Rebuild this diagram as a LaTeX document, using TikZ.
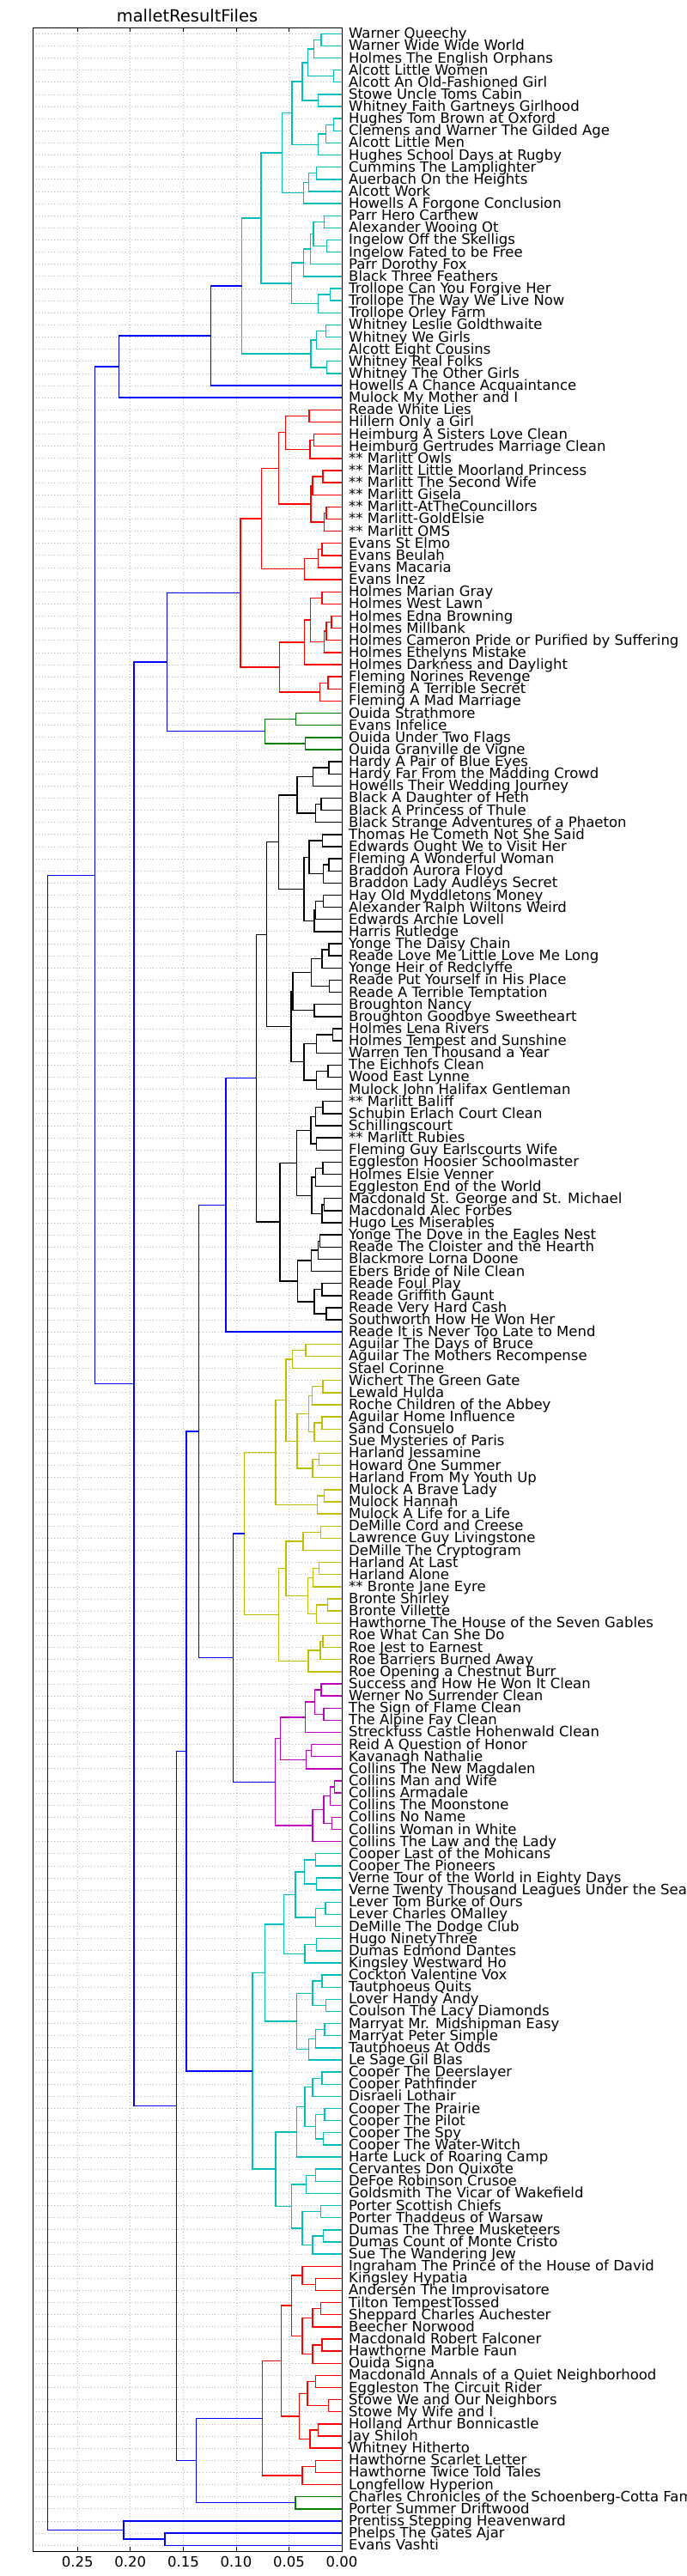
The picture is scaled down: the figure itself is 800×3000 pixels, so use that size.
\documentclass[tikz,border=0pt]{standalone}
\usepackage{fontspec}
\usetikzlibrary{calc}
\newfontfamily\labfont{DejaVu Sans}
\definecolor{mcyan}{rgb}{0,0.75,0.75}
\definecolor{mred}{rgb}{1,0,0}
\definecolor{mgreen}{rgb}{0,0.5,0}
\definecolor{myellow}{rgb}{0.75,0.75,0}
\definecolor{mmag}{rgb}{0.75,0,0.75}
\definecolor{mblue}{rgb}{0,0,1}
\definecolor{gridgray}{rgb}{0.72,0.72,0.72}
\tikzset{
  link/.style={line width=1.4pt, line join=miter},
  gridline/.style={gridgray, line width=0.8pt, dash pattern=on 1pt off 2.6pt},
  leaflab/.style={anchor=base west, inner sep=0pt, font=\labfont\fontsize{16.5}{16.5}\selectfont},
  ticklab/.style={anchor=north, inner sep=0pt, font=\labfont\fontsize{16.5}{16.5}\selectfont},
  titlelab/.style={anchor=base, inner sep=0pt, font=\labfont\fontsize{19.5}{19.5}\selectfont},
}
% #1 name, #2 child a, #3 child b, #4 height in old units (260 = 0), #5 colour
\newcommand\lk[5]{%
  \path let \p1=(#2), \p2=(#3) in ({(398-(260-#4)*1.5385)*1pt},{0.5*(\y1+\y2)}) coordinate (#1);
  \draw[link,#5] (#2) -- (#2 -| #1) -- (#3 -| #1) -- (#3);
}
\begin{document}
\begin{tikzpicture}[x=1pt,y=-1pt]
\useasboundingbox (0,0) rectangle (800,3000);
\clip (0,0) rectangle (800,3000);
\fill[white] (0,0) rectangle (800,3000);
% leaves and labels
\foreach \t [count=\i] in {Warner Queechy, Warner Wide Wide World, Holmes The English Orphans, Alcott Little Women, Alcott An Old-Fashioned Girl, Stowe Uncle Toms Cabin, Whitney Faith Gartneys Girlhood, Hughes Tom Brown at Oxford, Clemens and Warner The Gilded Age, Alcott Little Men, Hughes School Days at Rugby, Cummins The Lamplighter, Auerbach On the Heights, Alcott Work, Howells A Forgone Conclusion, Parr Hero Carthew, Alexander Wooing Ot, Ingelow Off the Skelligs, Ingelow Fated to be Free, Parr Dorothy Fox, Black Three Feathers, Trollope Can You Forgive Her, Trollope The Way We Live Now, Trollope Orley Farm, Whitney Leslie Goldthwaite, Whitney We Girls, Alcott Eight Cousins, Whitney Real Folks, Whitney The Other Girls, Howells A Chance Acquaintance, Mulock My Mother and I, Reade White Lies, Hillern Only a Girl, Heimburg A Sisters Love Clean, Heimburg Gertrudes Marriage Clean, ** Marlitt Owls, ** Marlitt Little Moorland Princess, ** Marlitt The Second Wife, ** Marlitt Gisela, ** Marlitt-AtTheCouncillors, ** Marlitt-GoldElsie, ** Marlitt OMS, Evans St Elmo, Evans Beulah, Evans Macaria, Evans Inez, Holmes Marian Gray, Holmes West Lawn, Holmes Edna Browning, Holmes Millbank, Holmes Cameron Pride or Purified by Suffering, Holmes Ethelyns Mistake, Holmes Darkness and Daylight, Fleming Norines Revenge, Fleming A Terrible Secret, Fleming A Mad Marriage, Ouida Strathmore, Evans Infelice, Ouida Under Two Flags, Ouida Granville de Vigne, Hardy A Pair of Blue Eyes, Hardy Far From the Madding Crowd, Howells Their Wedding Journey, Black A Daughter of Heth, Black A Princess of Thule, Black Strange Adventures of a Phaeton, Thomas He Cometh Not She Said, Edwards Ought We to Visit Her, Fleming A Wonderful Woman, Braddon Aurora Floyd, Braddon Lady Audleys Secret, Hay Old Myddletons Money, Alexander Ralph Wiltons Weird, Edwards Archie Lovell, Harris Rutledge, Yonge The Daisy Chain, Reade Love Me Little Love Me Long, Yonge Heir of Redclyffe, Reade Put Yourself in His Place, Reade A Terrible Temptation, Broughton Nancy, Broughton Goodbye Sweetheart, Holmes Lena Rivers, Holmes Tempest and Sunshine, Warren Ten Thousand a Year, The Eichhofs Clean, Wood East Lynne, Mulock John Halifax Gentleman, ** Marlitt Baliff, Schubin Erlach Court Clean, Schillingscourt, ** Marlitt Rubies, Fleming Guy Earlscourts Wife, Eggleston Hoosier Schoolmaster, Holmes Elsie Venner, Eggleston End of the World, Macdonald St. George and St. Michael, Macdonald Alec Forbes, Hugo Les Miserables, Yonge The Dove in the Eagles Nest, Reade The Cloister and the Hearth, Blackmore Lorna Doone, Ebers Bride of Nile Clean, Reade Foul Play, Reade Griffith Gaunt, Reade Very Hard Cash, Southworth How He Won Her, Reade It is Never Too Late to Mend, Aguilar The Days of Bruce, Aguilar The Mothers Recompense, Stael Corinne, Wichert The Green Gate, Lewald Hulda, Roche Children of the Abbey, Aguilar Home Influence, Sand Consuelo, Sue Mysteries of Paris, Harland Jessamine, Howard One Summer, Harland From My Youth Up, Mulock A Brave Lady, Mulock Hannah, Mulock A Life for a Life, DeMille Cord and Creese, Lawrence Guy Livingstone, DeMille The Cryptogram, Harland At Last, Harland Alone, ** Bronte Jane Eyre, Bronte Shirley, Bronte Villette, Hawthorne The House of the Seven Gables, Roe What Can She Do, Roe Jest to Earnest, Roe Barriers Burned Away, Roe Opening a Chestnut Burr, Success and How He Won It Clean, Werner No Surrender Clean, The Sign of Flame Clean, The Alpine Fay Clean, Streckfuss Castle Hohenwald Clean, Reid A Question of Honor, Kavanagh Nathalie, Collins The New Magdalen, Collins Man and Wife, Collins Armadale, Collins The Moonstone, Collins No Name, Collins Woman in White, Collins The Law and the Lady, Cooper Last of the Mohicans, Cooper The Pioneers, Verne Tour of the World in Eighty Days, Verne Twenty Thousand Leagues Under the Sea, Lever Tom Burke of Ours, Lever Charles OMalley, DeMille The Dodge Club, Hugo NinetyThree, Dumas Edmond Dantes, Kingsley Westward Ho, Cockton Valentine Vox, Tautphoeus Quits, Lover Handy Andy, Coulson The Lacy Diamonds, Marryat Mr. Midshipman Easy, Marryat Peter Simple, Tautphoeus At Odds, Le Sage Gil Blas, Cooper The Deerslayer, Cooper Pathfinder, Disraeli Lothair, Cooper The Prairie, Cooper The Pilot, Cooper The Spy, Cooper The Water-Witch, Harte Luck of Roaring Camp, Cervantes Don Quixote, DeFoe Robinson Crusoe, Goldsmith The Vicar of Wakefield, Porter Scottish Chiefs, Porter Thaddeus of Warsaw, Dumas The Three Musketeers, Dumas Count of Monte Cristo, Sue The Wandering Jew, Ingraham The Prince of the House of David, Kingsley Hypatia, Andersen The Improvisatore, Tilton TempestTossed, Sheppard Charles Auchester, Beecher Norwood, Macdonald Robert Falconer, Hawthorne Marble Faun, Ouida Signa, Macdonald Annals of a Quiet Neighborhood, Eggleston The Circuit Rider, Stowe We and Our Neighbors, Stowe My Wife and I, Holland Arthur Bonnicastle, Jay Shiloh, Whitney Hitherto, Hawthorne Scarlet Letter, Hawthorne Twice Told Tales, Longfellow Hyperion, Charles Chronicles of the Schoenberg-Cotta Family, Porter Summer Driftwood, Prentiss Stepping Heavenward, Phelps The Gates Ajar, Evans Vashti}{
  \coordinate (L\i) at (398,{32.2+(\i-0.5)*14.13});
  \draw[gridline] (38,{32.2+(\i-0.5)*14.13}) -- (398,{32.2+(\i-0.5)*14.13});
  \node[leaflab] (t\i) at (406,{32.2+(\i-0.5)*14.13+5.5}) {\t};
}
% vertical grid
\foreach \xx in {90.3,151.8,213.4,274.9,336.5}{
  \draw[gridline] (\xx,32.2) -- (\xx,2971);
}
% ---- top cyan cluster
\lk{a1}{L1}{L2}{244.3}{mcyan}
\lk{a2}{a1}{L3}{239}{mcyan}
\lk{a3}{L4}{L5}{254}{mcyan}
\lk{a4}{a2}{a3}{234.3}{mcyan}
\lk{a5}{L6}{L7}{242.3}{mcyan}
\lk{a6}{a4}{a5}{230}{mcyan}
\lk{a7}{L8}{L9}{254}{mcyan}
\lk{a8}{a7}{L10}{248}{mcyan}
\lk{a9}{a8}{L11}{242.3}{mcyan}
\lk{a10}{a6}{a9}{222.3}{mcyan}
\lk{a11}{L12}{L13}{241}{mcyan}
\lk{a12}{a11}{L14}{235}{mcyan}
\lk{a13}{a12}{L15}{231}{mcyan}
\lk{a14}{a10}{a13}{215}{mcyan}
\lk{a15}{L16}{L17}{246.7}{mcyan}
\lk{a16}{L18}{L19}{248.7}{mcyan}
\lk{a17}{a15}{a16}{238.5}{mcyan}
\lk{a18}{a17}{L20}{236.3}{mcyan}
\lk{a19}{a18}{L21}{231}{mcyan}
\lk{a20}{L22}{L23}{251.3}{mcyan}
\lk{a21}{a20}{L24}{242}{mcyan}
\lk{a22}{a19}{a21}{222}{mcyan}
\lk{a23}{a14}{a22}{199}{mcyan}
\lk{a24}{L25}{L26}{248}{mcyan}
\lk{a25}{a24}{L27}{241}{mcyan}
\lk{a26}{L28}{L29}{248.7}{mcyan}
\lk{a27}{a25}{a26}{236.7}{mcyan}
\lk{a28}{a23}{a27}{184.3}{mcyan}
\lk{a29}{a28}{L30}{160.7}{mblue}
\lk{a30}{a29}{L31}{91.3}{mblue}
% ---- red cluster
\lk{b1}{L32}{L33}{235.3}{mred}
\lk{b2}{L34}{L35}{239}{mred}
\lk{b3}{b2}{L36}{236}{mred}
\lk{b4}{b1}{b3}{217.3}{mred}
\lk{b5}{L37}{L38}{245.7}{mred}
\lk{b6}{b5}{L39}{238}{mred}
\lk{b7}{L40}{L41}{248.3}{mred}
\lk{b8}{b7}{L42}{246.7}{mred}
\lk{b9}{b6}{b8}{236.7}{mred}
\lk{b10}{b4}{b9}{212.3}{mred}
\lk{b11}{L43}{L44}{245}{mred}
\lk{b12}{b11}{L45}{242.3}{mred}
\lk{b13}{b12}{L46}{231.7}{mred}
\lk{b14}{b10}{b13}{199.3}{mred}
\lk{b15}{L47}{L48}{245}{mred}
\lk{b16}{L49}{L50}{252.3}{mred}
\lk{b17}{b16}{L51}{248.3}{mred}
\lk{b18}{b17}{L52}{246.7}{mred}
\lk{b19}{b15}{b18}{236.3}{mred}
\lk{b20}{b19}{L53}{231.7}{mred}
\lk{b21}{L54}{L55}{249.7}{mred}
\lk{b22}{b21}{L56}{243.3}{mred}
\lk{b23}{b20}{b22}{212.7}{mred}
\lk{b24}{b14}{b23}{183.3}{mred}
% ---- green
\lk{c1}{L57}{L58}{225.3}{mgreen}
\lk{c2}{L59}{L60}{232.3}{mgreen}
\lk{c3}{c1}{c2}{202}{mgreen}
\lk{c4}{b24}{c3}{127.7}{mblue}
% ---- black
\lk{d1}{L61}{L62}{250.3}{black}
\lk{d2}{d1}{L63}{238.3}{black}
\lk{d3}{L64}{L65}{244.3}{black}
\lk{d4}{d3}{L66}{240}{black}
\lk{d5}{d2}{d4}{226.3}{black}
\lk{d6}{L67}{L68}{245.3}{black}
\lk{d7}{L69}{L70}{250.3}{black}
\lk{d8}{d7}{L71}{246}{black}
\lk{d9}{d6}{d8}{235.3}{black}
\lk{d10}{L72}{L73}{246}{black}
\lk{d11}{d10}{L74}{240}{black}
\lk{d12}{d11}{L75}{239.3}{black}
\lk{d13}{d9}{d12}{231.3}{black}
\lk{d14}{d5}{d13}{212.3}{black}
\lk{d15}{L76}{L77}{250.3}{black}
\lk{d16}{d15}{L78}{245}{black}
\lk{d17}{L79}{L80}{250.7}{black}
\lk{d18}{d16}{d17}{237}{black}
\lk{d19}{L81}{L82}{239.3}{black}
\lk{d20}{d18}{d19}{223}{black}
\lk{d21}{L83}{L84}{253.3}{black}
\lk{d22}{d21}{L85}{240.7}{black}
\lk{d23}{L86}{L87}{249.7}{black}
\lk{d24}{d23}{L88}{240.7}{black}
\lk{d25}{d22}{d24}{231.3}{black}
\lk{d26}{d20}{d25}{221.7}{black}
\lk{d27}{d14}{d26}{203.3}{black}
\lk{d28}{L89}{L90}{245.7}{black}
\lk{d29}{d28}{L91}{240}{black}
\lk{d30}{L92}{L93}{240.7}{black}
\lk{d31}{d29}{d30}{236.7}{black}
\lk{d32}{L94}{L95}{245.7}{black}
\lk{d33}{d32}{L96}{240}{black}
\lk{d34}{L97}{L98}{246.7}{black}
\lk{d35}{d34}{L99}{245}{black}
\lk{d36}{d33}{d35}{237.3}{black}
\lk{d37}{d31}{d36}{226}{black}
\lk{d38}{L100}{L101}{243.3}{black}
\lk{d39}{d38}{L102}{242}{black}
\lk{d40}{d39}{L103}{237}{black}
\lk{d41}{L104}{L105}{245}{black}
\lk{d42}{L106}{L107}{248.3}{black}
\lk{d43}{d41}{d42}{239.3}{black}
\lk{d44}{d40}{d43}{226.7}{black}
\lk{d45}{d37}{d44}{213.3}{black}
\lk{d46}{d27}{d45}{195.3}{black}
\lk{d47}{d46}{L108}{172.3}{mblue}
% ---- yellow
\lk{e1}{L109}{L110}{232.7}{myellow}
\lk{e2}{e1}{L111}{222.7}{myellow}
\lk{e3}{L112}{L113}{245.7}{myellow}
\lk{e4}{e3}{L114}{237.7}{myellow}
\lk{e5}{L115}{L116}{245}{myellow}
\lk{e6}{e5}{L117}{239.3}{myellow}
\lk{e7}{e4}{e6}{235}{myellow}
\lk{e8}{L118}{L119}{242.7}{myellow}
\lk{e9}{e8}{L120}{238}{myellow}
\lk{e10}{e7}{e9}{226.3}{myellow}
\lk{e11}{e2}{e10}{217.7}{myellow}
\lk{e12}{L121}{L122}{246.7}{myellow}
\lk{e13}{e12}{L123}{241.3}{myellow}
\lk{e14}{e11}{e13}{210}{myellow}
\lk{e15}{L124}{L125}{244}{myellow}
\lk{e16}{e15}{L126}{230.7}{myellow}
\lk{e17}{L127}{L128}{242.7}{myellow}
\lk{e18}{e17}{L129}{238.3}{myellow}
\lk{e19}{L130}{L131}{249.3}{myellow}
\lk{e20}{e19}{L132}{240.7}{myellow}
\lk{e21}{e18}{e20}{234.3}{myellow}
\lk{e22}{e16}{e21}{217.7}{myellow}
\lk{e23}{L133}{L134}{245.7}{myellow}
\lk{e24}{e23}{L135}{243.7}{myellow}
\lk{e25}{e24}{L136}{234.7}{myellow}
\lk{e26}{e22}{e25}{212.3}{myellow}
\lk{e27}{e14}{e26}{186.3}{myellow}
% ---- magenta
\lk{f1}{L137}{L138}{244.3}{mmag}
\lk{f2}{L139}{L140}{246.3}{mmag}
\lk{f3}{f1}{f2}{239.7}{mmag}
\lk{f4}{f3}{L141}{232.3}{mmag}
\lk{f5}{L142}{L143}{237}{mmag}
\lk{f6}{f5}{L144}{233}{mmag}
\lk{f7}{f4}{f6}{213.7}{mmag}
\lk{f8}{L145}{L146}{254.3}{mmag}
\lk{f9}{f8}{L147}{251.3}{mmag}
\lk{f10}{L148}{L149}{252.7}{mmag}
\lk{f11}{f9}{f10}{246.3}{mmag}
\lk{f12}{f11}{L150}{238}{mmag}
\lk{f13}{f7}{f12}{209.7}{mmag}
\lk{f14}{e27}{f13}{177.7}{mblue}
\lk{f15}{d47}{f14}{151.7}{mblue}
% ---- lower cyan
\lk{g1}{L151}{L152}{240}{mcyan}
\lk{g2}{L153}{L154}{241}{mcyan}
\lk{g3}{g1}{g2}{231.7}{mcyan}
\lk{g4}{L155}{L156}{247.7}{mcyan}
\lk{g5}{g4}{L157}{240}{mcyan}
\lk{g6}{g3}{g5}{225}{mcyan}
\lk{g7}{L158}{L159}{241}{mcyan}
\lk{g8}{g7}{L160}{232}{mcyan}
\lk{g9}{g6}{g8}{216}{mcyan}
\lk{g10}{L161}{L162}{245}{mcyan}
\lk{g11}{L163}{L164}{248}{mcyan}
\lk{g12}{g10}{g11}{238}{mcyan}
\lk{g13}{L165}{L166}{247}{mcyan}
\lk{g14}{g13}{L167}{240}{mcyan}
\lk{g15}{g14}{L168}{235}{mcyan}
\lk{g16}{g12}{g15}{226}{mcyan}
\lk{g17}{g9}{g16}{201.7}{mcyan}
\lk{g18}{L169}{L170}{245}{mcyan}
\lk{g19}{g18}{L171}{238}{mcyan}
\lk{g20}{L172}{L173}{247}{mcyan}
\lk{g21}{L174}{L175}{246}{mcyan}
\lk{g22}{g20}{g21}{240}{mcyan}
\lk{g23}{g19}{g22}{232}{mcyan}
\lk{g24}{g23}{L176}{226}{mcyan}
\lk{g25}{L177}{L178}{240}{mcyan}
\lk{g26}{g25}{L179}{233}{mcyan}
\lk{g27}{L180}{L181}{244}{mcyan}
\lk{g28}{L182}{L183}{246}{mcyan}
\lk{g29}{g28}{L184}{238}{mcyan}
\lk{g30}{g27}{g29}{230}{mcyan}
\lk{g31}{g26}{g30}{222}{mcyan}
\lk{g32}{g24}{g31}{210}{mcyan}
\lk{g33}{g17}{g32}{192.3}{mcyan}
\lk{h1}{f15}{g33}{142.3}{mblue}
% ---- lower red
\lk{i1}{L186}{L187}{240}{mred}
\lk{i2}{L185}{i1}{230}{mred}
\lk{i3}{L188}{L189}{244}{mred}
\lk{i4}{i3}{L190}{238}{mred}
\lk{i5}{L191}{L192}{245}{mred}
\lk{i6}{i5}{L193}{238}{mred}
\lk{i7}{i4}{i6}{230}{mred}
\lk{i8}{i2}{i7}{222}{mred}
\lk{i9}{L194}{L195}{240}{mred}
\lk{i10}{L196}{L197}{250}{mred}
\lk{i11}{i9}{i10}{234}{mred}
\lk{i12}{L198}{L199}{242}{mred}
\lk{i13}{i12}{L200}{236}{mred}
\lk{i14}{i11}{i13}{228}{mred}
\lk{i15}{i8}{i14}{214}{mred}
\lk{i16}{L201}{L202}{240}{mred}
\lk{i17}{i16}{L203}{230}{mred}
\lk{i18}{i15}{i17}{200}{mred}
\lk{j1}{L204}{L205}{225}{mgreen}
\lk{j2}{i18}{j1}{150}{mblue}
\lk{h2}{h1}{j2}{134.7}{mblue}
\lk{h3}{c4}{h2}{102.7}{mblue}
\lk{h4}{a30}{h3}{73.3}{mblue}
\lk{j3}{L207}{L208}{126}{mblue}
\lk{j4}{L206}{j3}{95}{mblue}
\lk{root}{h4}{j4}{37.3}{mblue}
% ---- frame, ticks
\draw[line width=1pt] (38,32.2) rectangle (398,2971);
\foreach \xx/\lab [count=\k] in {90.3/0.25,151.8/0.20,213.4/0.15,274.9/0.10,336.5/0.05,398/0.00}{
  \draw[line width=0.8pt] (\xx,32.2) -- (\xx,37);
  \draw[line width=0.8pt] (\xx,2971) -- (\xx,2966);
  \node[ticklab] (tk\k) at (\xx,2977) {\lab};
}
\node[titlelab] (title) at (218,26) {malletResultFiles};
\end{tikzpicture}
\end{document}
